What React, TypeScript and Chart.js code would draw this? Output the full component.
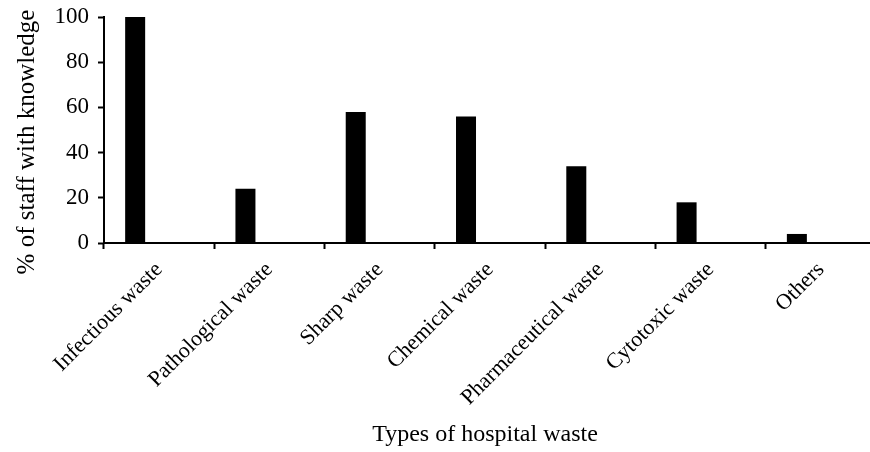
import React, { useEffect, useRef } from "react";
import { Chart, registerables } from "chart.js";

Chart.register(...registerables);

const categories = [
  "Infectious waste",
  "Pathological waste",
  "Sharp waste",
  "Chemical waste",
  "Pharmaceutical waste",
  "Cytotoxic waste",
  "Others",
];
const knowledgeValues = [100, 24, 58, 56, 34, 18, 4];
const blankSeries = [null, null, null, null, null, null, null];
const yTickValues = [0, 20, 40, 60, 80, 100];
const xAxisTitle = "Types of hospital waste";
const yAxisTitle = "% of staff with knowledge";

const FONT = "'Liberation Serif', 'Times New Roman', serif";

const axisTitlesPlugin = {
  id: "axisTitles",
  afterDraw(chart: any) {
    const { ctx, chartArea } = chart;
    ctx.save();
    ctx.fillStyle = "#000";
    ctx.textAlign = "center";
    ctx.textBaseline = "middle";
    ctx.font = `24px ${FONT}`;
    ctx.fillText(xAxisTitle, (chartArea.left + chartArea.right) / 2 - 5, chart.height - 17);
    ctx.font = `25px ${FONT}`;
    ctx.translate(27, (chartArea.top + chartArea.bottom) / 2 + 12);
    ctx.rotate(-Math.PI / 2);
    ctx.fillText(yAxisTitle, 0, 0);
    ctx.restore();
  },
};

export default function App() {
  const ref = useRef<HTMLCanvasElement | null>(null);

  useEffect(() => {
    if (!ref.current) return;
    const chart = new Chart(ref.current, {
      type: "bar",
      data: {
        labels: categories,
        datasets: [
          {
            label: "Knowledge",
            data: knowledgeValues,
            backgroundColor: "#000",
            borderWidth: 0,
            barPercentage: 0.417,
            categoryPercentage: 0.87,
          },
          {
            label: "",
            data: blankSeries as any,
            backgroundColor: "#000",
            borderWidth: 0,
            barPercentage: 0.417,
            categoryPercentage: 0.87,
          },
        ],
      },
      options: {
        responsive: false,
        animation: false,
        layout: { padding: { top: 17, right: 0, left: 0, bottom: 0 } },
        plugins: {
          legend: { display: false },
          tooltip: { enabled: false },
          title: { display: false },
        },
        scales: {
          x: {
            offset: true,
            grid: {
              offset: true,
              drawOnChartArea: false,
              drawTicks: true,
              tickLength: 6,
              tickWidth: 2,
              tickColor: "#000",
            },
            border: { display: true, color: "#000", width: 2 },
            ticks: {
              color: "#000",
              font: { family: FONT, size: 22 },
              minRotation: 45,
              maxRotation: 45,
              autoSkip: false,
              padding: 8,
            },
            afterFit(scale: any) {
              scale.height = 209;
              scale.paddingLeft = 0;
              scale.paddingRight = 0;
            },
          },
          y: {
            min: 0,
            max: 100,
            afterBuildTicks(scale: any) {
              scale.ticks = yTickValues.map((v) => ({ value: v }));
            },
            grid: {
              drawOnChartArea: false,
              drawTicks: true,
              tickLength: 6,
              tickWidth: 2,
              tickColor: "#000",
            },
            border: { display: true, color: "#000", width: 2 },
            ticks: {
              color: "#000",
              font: { family: FONT, size: 23 },
              padding: 9,
            },
            afterFit(scale: any) {
              scale.width = 104;
              scale.paddingTop = 0;
              scale.paddingBottom = 0;
            },
          },
        },
      },
      plugins: [axisTitlesPlugin],
    });
    return () => chart.destroy();
  }, []);

  return (
    <div style={{ position: "fixed", left: 0, top: 0, width: 876, height: 452, background: "#fff" }}>
      <canvas ref={ref} width={876} height={452} style={{ display: "block", width: 876, height: 452 }} />
    </div>
  );
}
